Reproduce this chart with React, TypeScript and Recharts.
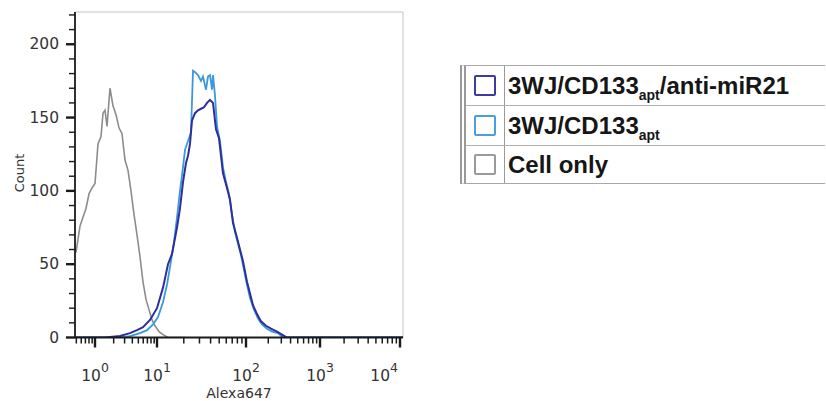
import { LineChart, Line, XAxis, YAxis, ReferenceLine, Legend } from "recharts";

// FlowJo-style display channels on the Alexa647 axis (0 = left edge, 328 = right edge)
const DECADE_CH = [20, 82, 171, 245, 325];
const DECADE_EXP = ["0", "1", "2", "3", "4"];

const Y_TICKS = [0, 10, 20, 30, 40, 50, 60, 70, 80, 90, 100, 110, 120, 130, 140, 150, 160, 170, 180, 190, 200, 210, 220];
const Y_LABELS = [0, 50, 100, 150, 200];

// Cell only
const CELL_CH = [1, 5, 8, 11, 14, 17, 20, 23, 26, 28, 30, 32, 35, 38, 41, 44, 47, 50, 53, 56, 59, 62, 65, 68, 71, 74, 77, 80, 84, 88, 93, 110];
const CELL_COUNT = [58, 76, 82, 88, 98, 102, 105, 132, 137, 153, 155, 144, 170, 158, 152, 143, 139, 121, 114, 100, 84, 70, 55, 38, 26, 19, 12, 8, 4, 2, 0, 0];

// 3WJ/CD133apt
const APT_CH = [0, 45, 55, 65, 72, 78, 83, 88, 92, 95, 99, 102, 105, 108, 110, 113, 116, 118, 120, 123, 126, 128, 131, 133, 135, 137, 138, 140, 142, 145, 148, 151, 154, 157, 160, 163, 166, 169, 172, 175, 179, 183, 187, 192, 197, 203, 208, 328];
const APT_COUNT = [0, 0, 1, 3, 5, 9, 14, 24, 36, 48, 65, 82, 100, 116, 128, 134, 140, 182, 181, 179, 175, 178, 169, 178, 179, 169, 179, 165, 144, 134, 116, 106, 98, 84, 72, 64, 56, 46, 36, 27, 19, 13, 9, 6, 4, 3, 0, 0];

// 3WJ/CD133apt/anti-miR21
const MIR_CH = [0, 30, 45, 55, 62, 68, 75, 82, 88, 93, 97, 102, 105, 108, 111, 113, 115, 117, 120, 123, 126, 129, 132, 135, 138, 141, 144, 148, 152, 155, 158, 162, 165, 168, 172, 175, 178, 182, 186, 191, 196, 202, 207, 212, 328];
const MIR_COUNT = [0, 0, 1, 3, 5, 7, 12, 20, 34, 50, 57, 75, 88, 106, 119, 124, 132, 148, 153, 155, 156, 157, 160, 162, 160, 142, 136, 112, 102, 94, 78, 68, 60, 52, 38, 30, 22, 16, 11, 8, 6, 4, 2, 0, 0];

const SERIES = [
  { name: "3WJ/CD133", sub: "apt", tail: "/anti-miR21", color: "#2e2e9e", icon: "#3b3ba8" },
  { name: "3WJ/CD133", sub: "apt", tail: "", color: "#3b98dd", icon: "#4a9fe0" },
  { name: "Cell only", sub: "", tail: "", color: "#8c8c8c", icon: "#9a9a9a" },
];

const toPoints = (ch: number[], count: number[]) => ch.map((c, i) => ({ ch: c, count: count[i] }));

const MINOR_CH: number[] = [];
[5, 6, 7, 8, 9].forEach((m) => MINOR_CH.push(DECADE_CH[0] + Math.log10(m / 10) * (DECADE_CH[1] - DECADE_CH[0])));
for (let k = 0; k < DECADE_CH.length - 1; k++) {
  for (let m = 2; m <= 9; m++) {
    MINOR_CH.push(DECADE_CH[k] + Math.log10(m) * (DECADE_CH[k + 1] - DECADE_CH[k]));
  }
}
const X_TICKS = [...DECADE_CH, ...MINOR_CH].sort((a, b) => a - b);

const AXIS_X = 75;
const AXIS_Y = 337.5;
const FONT = "'DejaVu Sans', sans-serif";

const XTick = ({ x, payload }: any) => {
  const idx = DECADE_CH.indexOf(payload.value);
  const major = idx >= 0;
  const last = idx === DECADE_CH.length - 1;
  return (
    <g>
      <line x1={x} x2={x} y1={AXIS_Y} y2={AXIS_Y + (major ? 10 : 6)} stroke="#1a1a1a" strokeWidth={major ? 2.4 : 1.5} />
      {major && (
        <text x={last ? x - 2 : x} y={381} textAnchor={last ? "end" : "middle"} fontSize={15.5} fontFamily={FONT} fill="#333">
          10
          <tspan fontSize={12.5} dy={-9}>{DECADE_EXP[idx]}</tspan>
        </text>
      )}
    </g>
  );
};

const YTick = ({ y, payload }: any) => {
  const major = Y_LABELS.includes(payload.value);
  return (
    <g>
      <line x1={AXIS_X - (major ? 9 : 6)} x2={AXIS_X} y1={y} y2={y} stroke="#1a1a1a" strokeWidth={major ? 2.4 : 1.4} />
      {major && (
        <text x={59} y={y + 5} textAnchor="end" fontSize={15.5} fontFamily={FONT} fill="#333">
          {payload.value}
        </text>
      )}
    </g>
  );
};

const LegendBox = () => (
  <div
    style={{
      boxSizing: "border-box",
      width: 365,
      borderTop: "1px solid #a8a8a8",
      borderBottom: "1px solid #a8a8a8",
      borderLeft: "6px double #9a9a9a",
      fontFamily: "'Liberation Sans', Arial, sans-serif",
      fontWeight: "bold",
      fontSize: 24,
      color: "#161616",
    }}
  >
    {SERIES.map((s, i) => (
      <div
        key={i}
        style={{
          display: "flex",
          alignItems: "center",
          height: i === 2 ? 37 : 39,
          borderTop: i > 0 ? "1px solid #b0b0b0" : "none",
        }}
      >
        <div
          style={{
            width: 38,
            height: "100%",
            borderRight: "1px solid #9a9a9a",
            display: "flex",
            alignItems: "center",
            justifyContent: "center",
          }}
        >
          <div
            style={{
              boxSizing: "border-box",
              width: 22,
              height: 21,
              border: `2.5px solid ${s.icon}`,
              borderRadius: 2,
            }}
          />
        </div>
        <div style={{ paddingLeft: 3, whiteSpace: "nowrap" }}>
          {s.name}
          {s.sub && <span style={{ fontSize: 14, position: "relative", top: 6 }}>{s.sub}</span>}
          {s.tail}
        </div>
      </div>
    ))}
  </div>
);

export default function App() {
  return (
    <div style={{ position: "absolute", left: 0, top: 0, background: "#fff" }}>
      <LineChart width={826} height={401} margin={{ top: 12, right: 423, bottom: 0, left: 0 }}>
        <XAxis
          type="number"
          dataKey="ch"
          domain={[0, 328]}
          ticks={X_TICKS}
          interval={0}
          tick={<XTick />}
          tickLine={false}
          axisLine={{ stroke: "#1a1a1a", strokeWidth: 1.8 }}
          height={63.5}
          allowDataOverflow
          label={{ value: "Alexa647", position: "insideBottom", offset: 3, fontSize: 14, fontFamily: FONT, fill: "#333" }}
        />
        <YAxis
          type="number"
          dataKey="count"
          domain={[0, 222]}
          ticks={Y_TICKS}
          interval={0}
          tick={<YTick />}
          tickLine={false}
          axisLine={{ stroke: "#1a1a1a", strokeWidth: 1.8 }}
          width={75}
          allowDataOverflow
        />
        <text x={19} y={173} transform="rotate(-90 19 173)" textAnchor="middle" dominantBaseline="central" fontSize={13} fontFamily={FONT} fill="#333">
          Count
        </text>
        <ReferenceLine y={222} stroke="#c4c4c4" strokeWidth={1} />
        <ReferenceLine x={328} stroke="#c4c4c4" strokeWidth={1} />
        <Line data={toPoints(CELL_CH, CELL_COUNT)} dataKey="count" type="linear" stroke={SERIES[2].color} strokeWidth={1.6} dot={false} isAnimationActive={false} name="Cell only" />
        <Line data={toPoints(APT_CH, APT_COUNT)} dataKey="count" type="linear" stroke={SERIES[1].color} strokeWidth={1.8} dot={false} isAnimationActive={false} name="3WJ/CD133apt" />
        <Line data={toPoints(MIR_CH, MIR_COUNT)} dataKey="count" type="linear" stroke={SERIES[0].color} strokeWidth={2} dot={false} isAnimationActive={false} name="3WJ/CD133apt/anti-miR21" />
        <Legend
          layout="vertical"
          align="center"
          verticalAlign="middle"
          content={() => <LegendBox />}
          wrapperStyle={{ position: "absolute", left: 460, top: 65, width: 365, height: "auto" }}
        />
      </LineChart>
    </div>
  );
}
